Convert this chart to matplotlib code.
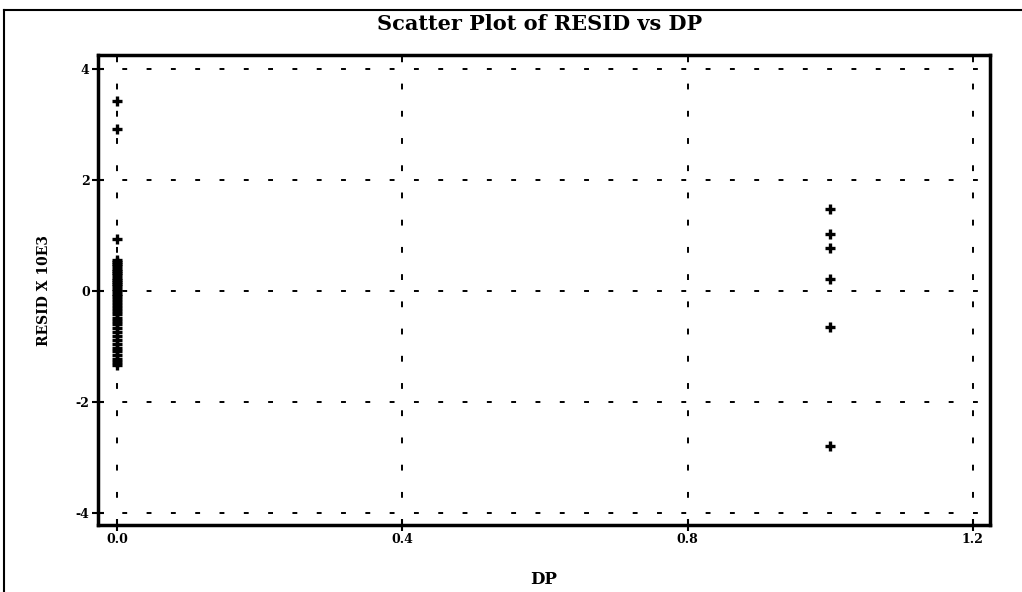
import matplotlib
matplotlib.use('Agg')
import matplotlib.pyplot as plt
from matplotlib.lines import Line2D

# Datos
dp_zero = [0.0] * 40
resid_zero = [3.42, 2.92, 0.94,
              0.56, 0.52, 0.48, 0.44, 0.40, 0.36, 0.32, 0.28, 0.24, 0.20,
              0.16, 0.12, 0.08, 0.04, 0.00, -0.05, -0.10, -0.15, -0.20,
              -0.25, -0.30, -0.36, -0.42, -0.48, -0.54, -0.60, -0.67,
              -0.74, -0.81, -0.88, -0.95, -1.02, -1.09, -1.16, -1.22,
              -1.28, -1.33]
dp_one = [1.0] * 6
resid_one = [1.48, 1.03, 0.77, 0.22, -0.65, -2.79]

x_ticks = [0.0, 0.4, 0.8, 1.2]
x_labels = ['0.0', '0.4', '0.8', '1.2']
y_ticks = [-4, -2, 0, 2, 4]
y_labels = ['-4', '-2', '0', '2', '4']

plt.rcParams['font.family'] = ['DejaVu Serif']
plt.rcParams['font.weight'] = 'bold'

fig = plt.figure(figsize=(10.22, 5.92), dpi=100)
ax = fig.add_axes([0.0959, 0.113, 0.8728, 0.794])

ax.scatter(dp_zero, resid_zero, marker='+', s=45, linewidths=2.4, color='black', zorder=3)
ax.scatter(dp_one, resid_one, marker='+', s=45, linewidths=2.4, color='black', zorder=3)

ax.set_xlim(-0.027, 1.224)
ax.set_ylim(-4.22, 4.25)
ax.set_xticks(x_ticks)
ax.set_xticklabels(x_labels, fontsize=9, fontweight='bold')
ax.set_yticks(y_ticks)
ax.set_yticklabels(y_labels, fontsize=9, fontweight='bold')
ax.tick_params(direction='inout', length=8, width=1.5, pad=2)

# Rejilla punteada
for x in x_ticks:
    ax.axvline(x, color='black', lw=1.4, ls=(0, (3, 11)), zorder=1)
for y in y_ticks:
    ax.axhline(y, color='black', lw=1.4, ls=(0, (2.5, 10)), zorder=1)

for s in ax.spines.values():
    s.set_linewidth(2.5)

ax.set_xlabel('DP', fontsize=12, fontweight='heavy', labelpad=18)
ax.set_ylabel('RESID X 10E3', fontsize=10, fontweight='heavy', labelpad=18)
fig.text(0.528, 0.960, 'Scatter Plot of RESID vs DP', ha='center', va='center',
         fontsize=15, fontweight='heavy')

# Marco exterior
fig.add_artist(Line2D([0.004, 0.004], [0.0, 0.983], transform=fig.transFigure, color='black', lw=1.5))
fig.add_artist(Line2D([0.004, 1.0], [0.983, 0.983], transform=fig.transFigure, color='black', lw=1.5))

fig.savefig('out.png', dpi=100)
